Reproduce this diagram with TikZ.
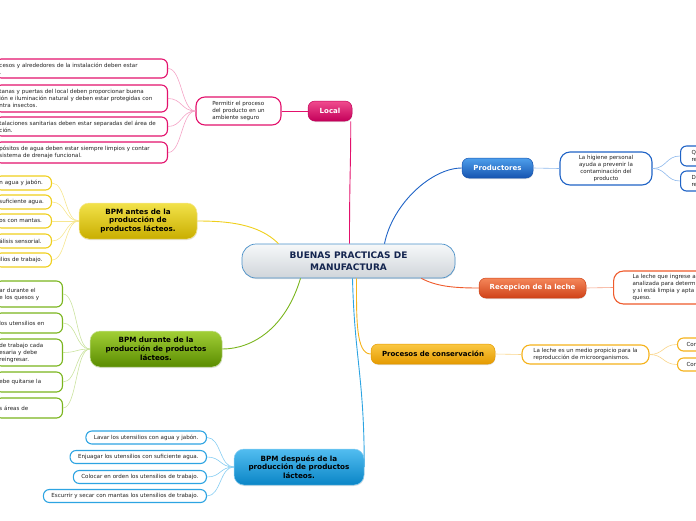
\documentclass[tikz,border=0pt]{standalone}
\usepackage{fontspec}
\setmainfont{DejaVu Sans}
\usetikzlibrary{shadows}
\definecolor{pinkB}{HTML}{E3116C}
\definecolor{pinkT}{HTML}{F04C8E}
\definecolor{pinkD}{HTML}{C4005A}
\definecolor{pinkL}{HTML}{F4A3C6}
\definecolor{yelB}{HTML}{EFCF1C}
\definecolor{yelT}{HTML}{F2E24A}
\definecolor{yelD}{HTML}{C9AE00}
\definecolor{yelL}{HTML}{F6E690}
\definecolor{grnB}{HTML}{7AB51D}
\definecolor{grnT}{HTML}{A2CF36}
\definecolor{grnD}{HTML}{5A8C00}
\definecolor{grnL}{HTML}{CBE3A0}
\definecolor{bluB}{HTML}{1F63C6}
\definecolor{bluT}{HTML}{4E9FEC}
\definecolor{bluD}{HTML}{1654B0}
\definecolor{bluL}{HTML}{8DB8EC}
\definecolor{orgB}{HTML}{EF5A2B}
\definecolor{orgT}{HTML}{F5875A}
\definecolor{orgD}{HTML}{CF4218}
\definecolor{golB}{HTML}{F5B21A}
\definecolor{golT}{HTML}{FAC843}
\definecolor{golD}{HTML}{E59A00}
\definecolor{golL}{HTML}{F9D488}
\definecolor{cyaB}{HTML}{2DA4E2}
\definecolor{cyaT}{HTML}{52BDF0}
\definecolor{cyaD}{HTML}{0A85C6}
\definecolor{cyaL}{HTML}{86CDF2}
\definecolor{cenB}{HTML}{4A90C8}
\definecolor{cenT}{HTML}{F6F8F9}
\definecolor{cenD}{HTML}{D0D5DA}
\definecolor{navy}{HTML}{14254F}
\definecolor{txt}{HTML}{222222}
\tikzset{
  leaffont/.style={font=\fontsize{5.55}{7}\selectfont, text=txt},
  leaf/.style={draw=#1, fill=white, line width=1.1pt, rounded corners=6pt, leaffont, inner ysep=2pt},
  topic/.style={rounded corners=10pt, line width=0.5pt, inner sep=0pt, align=center,
    drop shadow={opacity=0.25, shadow xshift=0.4pt, shadow yshift=-1pt},
    font=\bfseries\fontsize{7.2}{8.8}\selectfont},
  small/.style={rounded corners=7pt, line width=0.5pt, inner sep=0pt, align=center,
    drop shadow={opacity=0.25, shadow xshift=0.4pt, shadow yshift=-1pt},
    font=\bfseries\fontsize{7}{8.6}\selectfont},
  conn/.style={draw=#1, line width=0.9pt},
  lconn/.style={draw=#1, line width=0.6pt},
}
\begin{document}
\begin{tikzpicture}[x=1pt,y=-1pt]
\useasboundingbox (0,0) rectangle (696,520);
\clip (0,0) rectangle (696,520);

% ---------- central ----------
\node[topic, rounded corners=14pt, draw=cenB, line width=0.7pt, top color=cenT, bottom color=cenD,
  text=navy, font=\bfseries\fontsize{9}{11.5}\selectfont,
  minimum width=213pt, minimum height=34pt] (c) at (348.5,261) {BUENAS PRACTICAS DE\\MANUFACTURA};

% ---------- main topics ----------
\node[small, draw=pinkD, top color=pinkT, bottom color=pinkD, text=white,
  minimum width=44pt, minimum height=20pt] (loc) at (330,111) {Local};
\node[small, draw=bluD, top color=bluT, bottom color=bluD, text=white,
  minimum width=71pt, minimum height=20pt] (prod) at (497.5,168) {Productores};
\node[small, draw=orgD, top color=orgT, bottom color=orgD, text=white,
  minimum width=107pt, minimum height=20pt] (rec) at (532.5,288) {Recepcion de la leche};
\node[small, draw=golD, top color=golT, bottom color=golD, text=black,
  minimum width=124pt, minimum height=20pt] (proc) at (433,354) {Procesos de conservación};
\node[topic, draw=yelL, top color=yelT, bottom color=yelD, text=black,
  minimum width=118pt, minimum height=36pt] (yb) at (138,221) {BPM antes de la\\producción de\\productos lácteos.};
\node[topic, draw=grnL, top color=grnT, bottom color=grnD, text=black,
  minimum width=132pt, minimum height=36pt] (gb) at (156,349) {BPM durante de la\\producción de productos\\lácteos.};
\node[topic, draw=cyaL, top color=cyaT, bottom color=cyaD, text=black,
  minimum width=130pt, minimum height=36pt] (db) at (299,467) {BPM después de la\\producción de productos\\lácteos.};

% ---------- main connectors ----------
\draw[conn=pinkB] ([xshift=1pt]c.north) .. controls +(0,-70) and +(0,50) .. ([xshift=-1.5pt]loc.south east);
\draw[conn=bluB] ([xshift=36pt]c.north) .. controls +(8,-40) and +(-30,0) .. (prod.west);
\draw[conn=orgB] ([xshift=-34pt]c.south east) .. controls +(15,8) and +(-25,0) .. (rec.west);
\draw[conn=golB] ([xshift=8pt]c.south) .. controls +(0,40) and +(-15,0) .. (proc.west);
\draw[conn=cyaB] ([xshift=4pt]c.south) .. controls +(2,80) and +(0,-90) .. (db.east);
\draw[conn=yelB] ([xshift=-70pt]c.north) .. controls +(-20,-20) and +(30,0) .. (yb.east);
\draw[conn=grnB] ([xshift=-48pt]c.south) .. controls +(-15,50) and +(30,0) .. (gb.east);

% ---------- Local branch ----------
\node[leaf=pinkB, align=left, minimum width=85pt, minimum height=28pt, inner xsep=6pt, rounded corners=9pt] (perm) at (238.5,111)
  {Permitir el proceso\\del producto en un\\ambiente seguro};
\draw[conn=pinkB, line width=0.6pt] (perm.east) -- (loc.west);
\node[leaf=pinkB, text width=164pt, align=left, inner xsep=4pt, minimum height=19pt, anchor=east] (l1) at (168,68.5)
  {cesos y alrededores de la instalación deben estar\\.};
\node[leaf=pinkB, text width=164pt, align=left, inner xsep=4pt, minimum height=27pt, anchor=east] (l2) at (168,98.5)
  {tanas y puertas del local deben proporcionar buena\\ión e iluminación natural y deben estar protegidas con\\ntra insectos.};
\node[leaf=pinkB, text width=164pt, align=left, inner xsep=4pt, minimum height=19pt, anchor=east] (l3) at (168,126.5)
  {talaciones sanitarias deben estar separadas del área de\\ción.};
\node[leaf=pinkB, text width=164pt, align=left, inner xsep=4pt, minimum height=21pt, anchor=east] (l4) at (168,152.5)
  {pósitos de agua deben estar siempre limpios y contar\\ sistema de drenaje funcional.};
\foreach \n in {l1,l2,l3,l4}
  \draw[lconn=pinkL] (perm.west) .. controls +(-14,0) and +(14,0) .. (\n.east);

% ---------- BPM antes ----------
\node[leaf=yelB, text width=48pt, align=left, inner xsep=4pt, minimum height=14pt, anchor=east] (y1) at (52,183) {n agua y jabón.};
\node[leaf=yelB, text width=48pt, align=left, inner xsep=4pt, minimum height=14pt, anchor=east] (y2) at (52,202) {suficiente agua.};
\node[leaf=yelB, text width=48pt, align=left, inner xsep=4pt, minimum height=14pt, anchor=east] (y3) at (52,221) {os con mantas.};
\node[leaf=yelB, text width=48pt, align=left, inner xsep=4pt, minimum height=14pt, anchor=east] (y4) at (52,241) {álisis sensorial.};
\node[leaf=yelB, text width=48pt, align=left, inner xsep=4pt, minimum height=14pt, anchor=east] (y5) at (52,260) {ilios de trabajo.};
\foreach \n in {y1,y2,y3,y4,y5}
  \draw[lconn=yelL] (yb.west) .. controls +(-14,0) and +(14,0) .. (\n.east);

% ---------- BPM durante ----------
\node[leaf=grnB, text width=59pt, align=left, inner xsep=4pt, minimum height=26pt, anchor=east] (g1) at (63,294) {ar durante el\\e los quesos y};
\node[leaf=grnB, text width=59pt, align=left, inner xsep=4pt, minimum height=20pt, anchor=east] (g2) at (63,323) {los utensilios en\\[1pt]};
\node[leaf=grnB, text width=59pt, align=left, inner xsep=4pt, minimum height=27pt, anchor=east] (g3) at (63,352.5) {de trabajo cada\\esaria y debe\\reingresar.};
\node[leaf=grnB, text width=59pt, align=left, inner xsep=4pt, minimum height=20pt, anchor=east] (g4) at (63,382) {ebe quitarse la\\[1pt]};
\node[leaf=grnB, text width=59pt, align=left, inner xsep=4pt, minimum height=20pt, anchor=east] (g5) at (63,408) {s áreas de\\[1pt]};
\foreach \n in {g1,g2,g3,g4,g5}
  \draw[lconn=grnL] (gb.west) .. controls +(-14,0) and +(14,0) .. (\n.east);

% ---------- BPM despues ----------
\node[leaf=cyaB, inner xsep=8pt, minimum height=13pt, anchor=east] (d1) at (207,437.5) {Lavar los utensilios con agua y jabón.};
\node[leaf=cyaB, inner xsep=8pt, minimum height=13pt, anchor=east] (d2) at (207,457) {Enjuagar los utensilios con suficiente agua.};
\node[leaf=cyaB, inner xsep=8pt, minimum height=13pt, anchor=east] (d3) at (207,477) {Colocar en orden los utensilios de trabajo.};
\node[leaf=cyaB, inner xsep=8pt, minimum height=13pt, anchor=east] (d4) at (207,496) {Escurrir y secar con mantas los utensilios de trabajo.};
\foreach \n in {d1,d2,d3,d4}
  \draw[lconn=cyaL] (db.west) .. controls +(-14,0) and +(14,0) .. (\n.east);

% ---------- Productores ----------
\node[leaf=bluB, align=center, minimum width=92pt, minimum height=33pt, rounded corners=10pt] (pc) at (606,168.5)
  {La higiene personal\\ayuda a prevenir la\\contaminación del\\producto};
\draw[lconn=bluL] (prod.east) -- (pc.west);
\node[leaf=bluB, text width=40pt, align=left, inner xsep=11pt, minimum height=20pt, anchor=west] (p1) at (680,156) {Q\\re};
\node[leaf=bluB, text width=40pt, align=left, inner xsep=11pt, minimum height=20pt, anchor=west] (p2) at (680,181) {D\\re};
\foreach \n in {p1,p2}
  \draw[lconn=bluL] (pc.east) .. controls +(14,0) and +(-14,0) .. (\n.west);

% ---------- Recepcion ----------
\node[leaf=orgB, text width=90pt, align=left, inner xsep=19pt, minimum height=33pt, rounded corners=10pt, anchor=west] (rc) at (613,287.5)
  {La leche que ingrese a\\analizada para determi\\y si está limpia y apta p\\queso.};
\draw[lconn=orgB!60] (rec.east) -- (rc.west);

% ---------- Procesos ----------
\node[leaf=golB, align=left, minimum width=127pt, minimum height=19pt, rounded corners=8pt] (pr) at (585.5,354.5)
  {La leche es un medio propicio para la\\reproducción de microorganismos.};
\draw[lconn=golL] (proc.east) -- (pr.west);
\node[leaf=golB, text width=30pt, align=left, inner xsep=9pt, minimum height=13pt, anchor=west] (k1) at (677,344.5) {Con};
\node[leaf=golB, text width=30pt, align=left, inner xsep=9pt, minimum height=13pt, anchor=west] (k2) at (677,364.5) {Con};
\foreach \n in {k1,k2}
  \draw[lconn=golL] (pr.east) .. controls +(14,0) and +(-14,0) .. (\n.west);
\end{tikzpicture}
\end{document}
